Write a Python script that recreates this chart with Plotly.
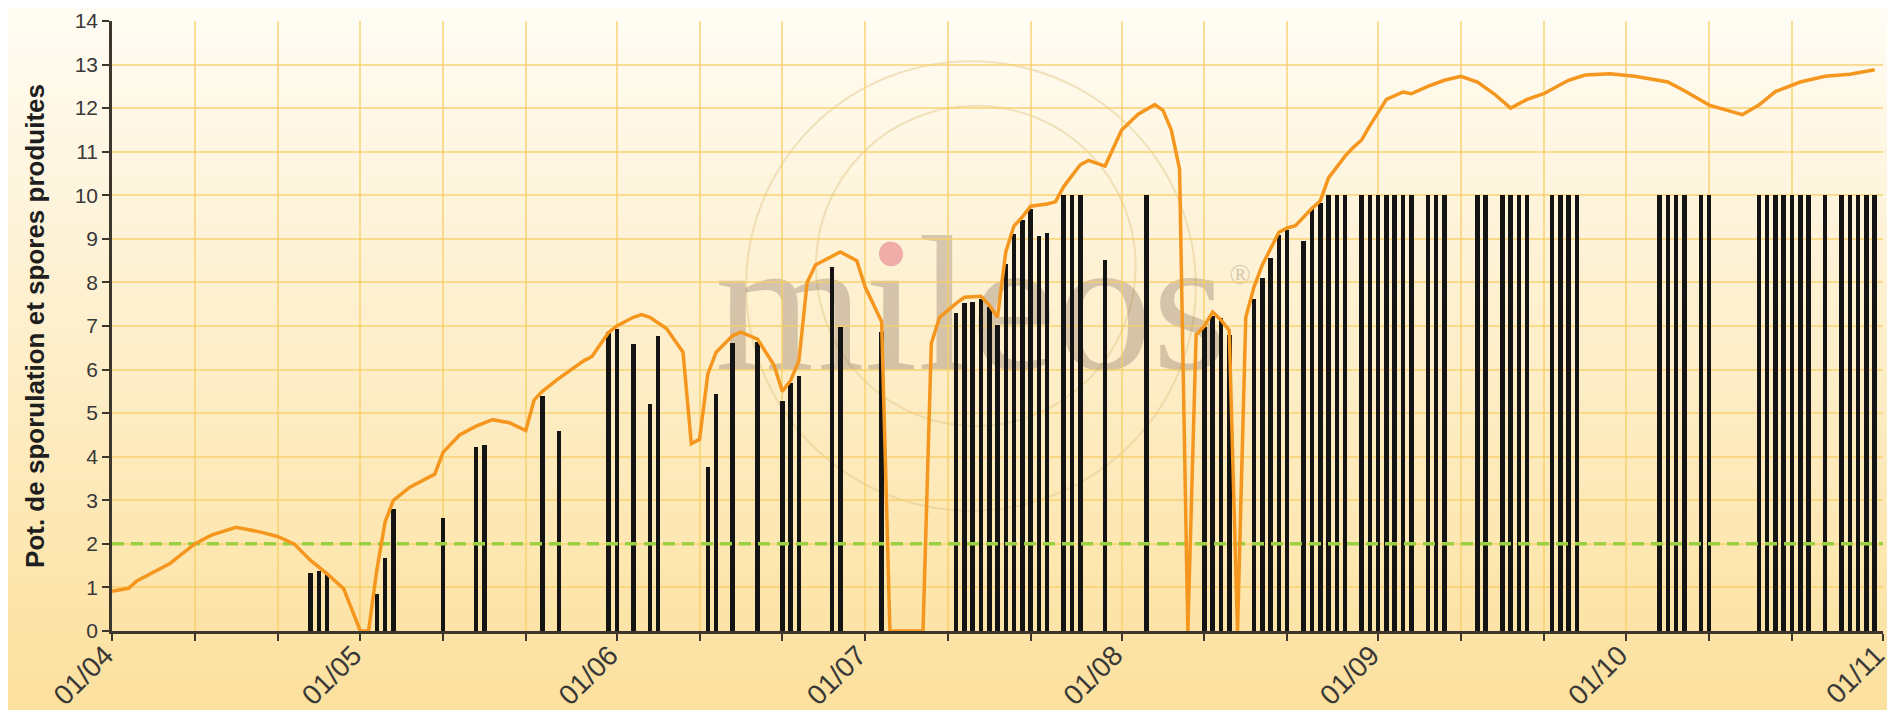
import plotly.graph_objects as go

# ---------------- data ----------------
bar_dates = [
    "2013-04-25", "2013-04-26", "2013-04-27",
    "2013-05-03", "2013-05-04", "2013-05-05", "2013-05-11", "2013-05-15", "2013-05-16",
    "2013-05-23", "2013-05-25", "2013-05-31",
    "2013-06-01", "2013-06-03", "2013-06-05", "2013-06-06", "2013-06-12", "2013-06-13",
    "2013-06-15", "2013-06-18", "2013-06-21", "2013-06-22", "2013-06-23", "2013-06-27",
    "2013-06-28",
    "2013-07-03", "2013-07-12", "2013-07-13", "2013-07-14", "2013-07-15", "2013-07-16",
    "2013-07-17", "2013-07-18", "2013-07-19", "2013-07-20", "2013-07-21", "2013-07-22",
    "2013-07-23", "2013-07-25", "2013-07-26", "2013-07-27", "2013-07-30",
    "2013-08-04", "2013-08-11", "2013-08-12", "2013-08-13", "2013-08-14", "2013-08-17",
    "2013-08-18", "2013-08-19", "2013-08-20", "2013-08-21", "2013-08-23", "2013-08-24",
    "2013-08-25", "2013-08-26", "2013-08-27", "2013-08-28", "2013-08-30", "2013-08-31",
    "2013-09-01", "2013-09-02", "2013-09-03", "2013-09-04", "2013-09-05", "2013-09-07",
    "2013-09-08", "2013-09-09", "2013-09-13", "2013-09-14", "2013-09-16", "2013-09-17",
    "2013-09-18", "2013-09-19", "2013-09-22", "2013-09-23", "2013-09-24", "2013-09-25",
    "2013-10-05", "2013-10-06", "2013-10-07", "2013-10-08", "2013-10-10", "2013-10-11",
    "2013-10-17", "2013-10-18", "2013-10-19", "2013-10-20", "2013-10-21", "2013-10-22",
    "2013-10-23", "2013-10-25", "2013-10-27", "2013-10-28", "2013-10-29", "2013-10-30",
    "2013-10-31",
]
bar_values = [
    1.33, 1.38, 1.33,
    0.85, 1.67, 2.8, 2.6, 4.23, 4.28,
    5.4, 4.59, 6.86,
    6.94, 6.58, 5.2, 6.78, 3.76, 5.44,
    6.61, 6.64, 5.29, 5.70, 5.85, 8.35,
    6.97,
    6.87, 7.30, 7.52, 7.56, 7.62, 7.43,
    7.02, 8.42, 9.11, 9.44, 9.69, 9.07,
    9.13, 10, 10, 10, 8.52,
    10, 6.97, 7.23, 7.19, 6.79, 7.63,
    8.11, 8.57, 9.08, 9.21, 8.95, 9.71,
    9.82, 10, 10, 10, 10, 10,
    10, 10, 10, 10, 10, 10,
    10, 10, 10, 10, 10, 10,
    10, 10, 10, 10, 10, 10,
    10, 10, 10, 10, 10, 10,
    10, 10, 10, 10, 10, 10,
    10, 10, 10, 10, 10, 10,
    10,
]

line_dates = [
    "2013-04-01", "2013-04-03", "2013-04-04", "2013-04-06", "2013-04-08", "2013-04-09",
    "2013-04-11", "2013-04-13", "2013-04-16", "2013-04-19", "2013-04-21", "2013-04-23",
    "2013-04-25", "2013-04-27", "2013-04-29",
    "2013-05-01", "2013-05-02", "2013-05-03", "2013-05-04", "2013-05-05", "2013-05-07",
    "2013-05-10", "2013-05-11", "2013-05-13", "2013-05-15", "2013-05-17", "2013-05-19",
    "2013-05-21", "2013-05-22", "2013-05-23", "2013-05-25", "2013-05-28", "2013-05-29",
    "2013-05-31",
    "2013-06-01", "2013-06-03", "2013-06-04", "2013-06-05", "2013-06-07", "2013-06-09",
    "2013-06-10", "2013-06-11", "2013-06-12", "2013-06-13", "2013-06-15", "2013-06-16",
    "2013-06-18", "2013-06-20", "2013-06-21", "2013-06-22", "2013-06-23", "2013-06-24",
    "2013-06-25", "2013-06-28", "2013-06-30",
    "2013-07-01", "2013-07-03", "2013-07-04", "2013-07-08", "2013-07-09", "2013-07-10",
    "2013-07-12", "2013-07-13", "2013-07-15", "2013-07-16", "2013-07-17", "2013-07-18",
    "2013-07-19", "2013-07-20", "2013-07-21", "2013-07-23", "2013-07-24", "2013-07-25",
    "2013-07-27", "2013-07-28", "2013-07-30",
    "2013-08-01", "2013-08-03", "2013-08-05", "2013-08-06", "2013-08-07", "2013-08-08",
    "2013-08-09", "2013-08-10", "2013-08-11", "2013-08-12", "2013-08-13", "2013-08-14",
    "2013-08-15", "2013-08-16", "2013-08-17", "2013-08-18", "2013-08-20", "2013-08-21",
    "2013-08-22", "2013-08-24", "2013-08-25", "2013-08-26", "2013-08-27", "2013-08-28",
    "2013-08-29", "2013-08-30", "2013-08-31",
    "2013-09-01", "2013-09-02", "2013-09-04", "2013-09-05", "2013-09-07", "2013-09-09",
    "2013-09-11", "2013-09-13", "2013-09-15", "2013-09-17", "2013-09-19", "2013-09-21",
    "2013-09-24", "2013-09-26", "2013-09-29",
    "2013-10-02", "2013-10-06", "2013-10-08", "2013-10-11", "2013-10-14", "2013-10-15",
    "2013-10-17", "2013-10-19", "2013-10-22", "2013-10-25", "2013-10-28", "2013-10-31",
]
line_values = [
    0.91, 0.98, 1.15, 1.35, 1.55, 1.7,
    2.0, 2.2, 2.38, 2.27, 2.17, 2.0,
    1.62, 1.31, 0.97,
    0.0, 0.0, 1.4, 2.5, 3.0, 3.3,
    3.6, 4.1, 4.5, 4.7, 4.85, 4.78,
    4.6, 5.3, 5.5, 5.8, 6.2, 6.3,
    6.85,
    7.0, 7.2, 7.26, 7.2, 6.94, 6.4,
    4.3, 4.4, 5.9, 6.4, 6.78, 6.86,
    6.7, 6.1, 5.5, 5.75, 6.2, 8.0,
    8.4, 8.7, 8.5,
    7.9, 7.1, 0.0, 0.0, 6.6, 7.2,
    7.52, 7.66, 7.68, 7.48, 7.2, 8.7,
    9.3, 9.5, 9.75, 9.8, 9.85, 10.2,
    10.7, 10.8, 10.67,
    11.5, 11.86, 12.08, 11.95, 11.5, 10.6,
    0.0, 6.8, 7.0, 7.32, 7.14, 6.9,
    0.0, 7.2, 7.9, 8.4, 9.15, 9.25,
    9.3, 9.7, 9.87, 10.4, 10.66, 10.9,
    11.1, 11.27, 11.6,
    11.9, 12.2, 12.37, 12.33, 12.5, 12.64,
    12.73, 12.6, 12.33, 12.0, 12.2, 12.33,
    12.64, 12.76, 12.79,
    12.73, 12.6, 12.4, 12.07, 11.89, 11.85,
    12.07, 12.38, 12.6, 12.73, 12.78, 12.88,
]

threshold = 2
x_start, x_end = "2013-04-01", "2013-11-01"

tick_dates = [
    "2013-04-01", "2013-04-11", "2013-04-21",
    "2013-05-01", "2013-05-11", "2013-05-21",
    "2013-06-01", "2013-06-11", "2013-06-21",
    "2013-07-01", "2013-07-11", "2013-07-21",
    "2013-08-01", "2013-08-11", "2013-08-21",
    "2013-09-01", "2013-09-11", "2013-09-21",
    "2013-10-01", "2013-10-11", "2013-10-21",
    "2013-11-01",
]
tick_labels = [
    "01/04", "", "",
    "01/05", "", "",
    "01/06", "", "",
    "01/07", "", "",
    "01/08", "", "",
    "01/09", "", "",
    "01/10", "", "",
    "01/11",
]
y_title = "Pot. de sporulation et spores produites"

# ---------------- figure ----------------
DAY_MS = 86400000
fig = go.Figure()
fig.add_trace(go.Bar(
    x=bar_dates, y=bar_values, width=0.55 * DAY_MS,
    marker=dict(color="#141414", line=dict(width=0)),
    name="Spores produites",
))
fig.add_trace(go.Scatter(
    x=[x_start, x_end], y=[threshold, threshold], mode="lines",
    line=dict(color="#9BD042", width=3.5, dash="12px,7px"),
    name="Seuil",
))
fig.add_trace(go.Scatter(
    x=line_dates, y=line_values, mode="lines",
    line=dict(color="#F5961E", width=3.5),
    name="Pot. de sporulation",
))

# background gradient (styling only)
shapes = []
top_c = (255, 252, 244)
bot_c = (252, 224, 156)
n = 60
y_lo, y_hi = -0.16, 1.03
for i in range(n):
    t = i / (n - 1)
    c = tuple(int(round(bot_c[k] + (top_c[k] - bot_c[k]) * t)) for k in range(3))
    y0 = y_lo + (y_hi - y_lo) * i / n
    y1 = y_lo + (y_hi - y_lo) * (i + 1) / n + 0.002
    shapes.append(dict(type="rect", xref="paper", yref="paper", x0=-0.08, x1=1.03,
                       y0=y0, y1=y1, fillcolor="rgb(%d,%d,%d)" % c,
                       line=dict(width=0), layer="below"))

# watermark logo (styling only)
wm_col = "rgba(225,195,130,0.45)"
wm_text = "rgba(130,105,95,0.33)"
shapes.append(dict(type="circle", xref="paper", yref="paper", x0=0.358, x1=0.612,
                   y0=0.197, y1=0.934, line=dict(color=wm_col, width=2), layer="below"))
shapes.append(dict(type="circle", xref="paper", yref="paper", x0=0.3975, x1=0.578,
                   y0=0.336, y1=0.861, line=dict(color=wm_col, width=2), layer="below"))
shapes.append(dict(type="rect", xref="paper", yref="paper", x0=0.33, x1=0.64,
                   y0=0.42, y1=0.72, line=dict(width=0), fillcolor="rgba(0,0,0,0)",
                   layer="below",
                   label=dict(text="mileos", textposition="middle center",
                              font=dict(family="Liberation Serif", size=192,
                                        color=wm_text))))
shapes.append(dict(type="rect", xref="paper", yref="paper", x0=0.622, x1=0.652,
                   y0=0.56, y1=0.62, line=dict(width=0), fillcolor="rgba(0,0,0,0)",
                   layer="below",
                   label=dict(text="®", textposition="middle center",
                              font=dict(family="Liberation Serif", size=28,
                                        color=wm_text))))
shapes.append(dict(type="circle", xref="paper", yref="paper", x0=0.4331, x1=0.4467,
                   y0=0.598, y1=0.638, line=dict(width=0),
                   fillcolor="rgb(240,172,168)", layer="below"))

axis_col = "#3c362c"
grid_col = "rgba(248,206,100,0.65)"
fig.update_layout(
    width=1895, height=710,
    margin=dict(l=104, r=20, t=13, b=87, pad=0),
    paper_bgcolor="rgb(255,250,238)",
    plot_bgcolor="rgba(0,0,0,0)",
    showlegend=False,
    bargap=0,
    shapes=shapes,
    font=dict(family="Liberation Sans", color="#333"),
    xaxis=dict(
        type="date", range=[x_start, x_end], automargin=False,
        tickmode="array", tickvals=tick_dates, ticktext=tick_labels,
        tickangle=-45, ticks="outside", ticklen=7, tickwidth=2, tickcolor=axis_col,
        ticklabelstandoff=-13, ticklabelshift=-7,
        showline=True, linecolor=axis_col, linewidth=2.5,
        showgrid=True, gridcolor=grid_col, gridwidth=1.5,
        zeroline=False,
        tickfont=dict(family="Liberation Sans", size=28, color="#383838"),
    ),
    yaxis=dict(
        range=[0, 14], tick0=0, dtick=1, automargin=False,
        ticks="outside", ticklen=7, tickwidth=2, tickcolor=axis_col,
        showline=True, linecolor=axis_col, linewidth=2.5,
        showgrid=True, gridcolor=grid_col, gridwidth=1.5,
        zeroline=False,
        tickfont=dict(family="Liberation Sans", size=21, color="#383838"),
    ),
    annotations=[dict(
        text=y_title, xref="paper", yref="paper", x=-0.0435, y=0.5,
        xanchor="center", yanchor="middle", textangle=-90, showarrow=False,
        font=dict(family="Liberation Sans", size=26, color="#1e1e1e", weight="bold"),
    )],
)

fig.write_html("out.html")
